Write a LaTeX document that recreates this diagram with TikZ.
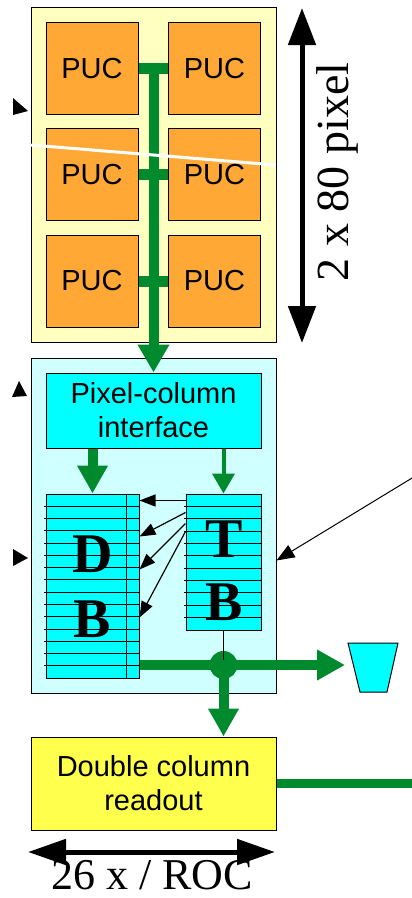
\documentclass[tikz,border=0pt]{standalone}
\usepackage{fontspec}
\setmainfont{Liberation Serif}
\setsansfont{Liberation Sans}
\usetikzlibrary{arrows.meta,calc}
\definecolor{paleyellow}{RGB}{255,255,191}
\definecolor{pucorange}{RGB}{255,168,54}
\definecolor{palecyan}{RGB}{208,255,255}
\definecolor{boxcyan}{RGB}{0,255,255}
\definecolor{royellow}{RGB}{255,255,77}
\definecolor{busgreen}{RGB}{0,138,46}
\begin{document}
\begin{tikzpicture}[x=1pt,y=-1pt,
  blk/.style={draw,line width=1pt,inner sep=0pt},
  txt/.style={font=\sffamily\fontsize{29}{34}\selectfont,align=center},
  puc/.style={blk,txt,fill=pucorange,minimum width=92pt,minimum height=92pt},
  big/.style={font=\bfseries\fontsize{56}{60}\selectfont,inner sep=0pt,anchor=base},
  dimtxt/.style={font=\fontsize{46}{50}\selectfont,inner sep=0pt,anchor=base},
  bus/.style={draw=busgreen,line width=10pt},
  busarrow/.style={bus,-{Triangle[width=29pt,length=28pt]}},
  thinarrow/.style={line width=1.2pt,-{Triangle[width=12pt,length=16pt]}},
  dimarrow/.style={line width=5pt,{Triangle[width=27pt,length=37pt]}-{Triangle[width=27pt,length=37pt]}}]
\useasboundingbox (0,0) rectangle (412,898);
% pixel column
\node[blk,fill=paleyellow,minimum width=245pt,minimum height=335pt] (col) at (153.5,174.5) {};
\foreach \y/\n in {68.5/1,174.5/2,281/3}
{
  \node[puc] (pa\n) at (92,\y) {PUC};
  \node[puc] (pb\n) at (214.5,\y) {PUC};
}
% periphery
\node[blk,fill=palecyan,minimum width=245pt,minimum height=335pt] (cell) at (153.5,525.5) {};
\node[blk,txt,fill=boxcyan,minimum width=215pt,minimum height=75pt] (pci) at (153.5,410.5) {Pixel-column\\interface};
\node[blk,fill=boxcyan,minimum width=93pt,minimum height=184pt] (db) at (92.5,586) {};
\node[blk,fill=boxcyan,minimum width=75pt,minimum height=136pt] (tb) at (223.5,562) {};
\foreach \i in {1,...,14} \draw[line width=0.8pt] (44,{494+12.27*\i}) -- (139,{494+12.27*\i});
\foreach \i in {1,...,10} \draw[line width=0.8pt] (184,{494+12.36*\i}) -- (261,{494+12.36*\i});
\draw[line width=1pt] (126,494) -- (126,678);
\node[big] (dbd) at (92.5,572) {D};
\node[big] (dbb) at (92.5,637) {B};
\node[big] (tbt) at (224,557) {T};
\node[big] (tbb) at (224,620) {B};
\node[blk,txt,fill=royellow,minimum width=245pt,minimum height=93pt] (rd) at (153.5,783.5) {Double column\\readout};
% column bus
\foreach \a/\b in {pa1/pb1,pa2/pb2,pa3/pb3} \draw[bus,line width=11pt] (\a.east) -- (\b.west);
\coordinate (bustop) at (153.5,63);
\draw[busarrow,-{Triangle[width=30pt,length=28pt]}] (bustop) -- (pci.north);
\draw[busarrow] (db.north |- pci.south) -- (db.north);
\draw[bus,line width=4pt,-{Triangle[width=22pt,length=20pt]}] (tb.north |- pci.south) -- (tb.north);
\draw[thinarrow] ($(tb.north west)+(0,7)$) -- ($(db.north east)+(0,7)$);
\draw[thinarrow] ($(tb.north west)+(0,19)$) -- ($(db.north east)+(0,43)$);
\draw[thinarrow] ($(tb.north west)+(0,30)$) -- ($(db.north east)+(0,76)$);
\draw[thinarrow] ($(tb.north west)+(0,38)$) -- ($(db.north east)+(0,124)$);
\node[circle,fill=busgreen,minimum size=28pt,inner sep=0pt] (jn) at (223.5,665) {};
\draw[line width=1.5pt] (tb.south) -- (jn.center);
\coordinate (binin) at (345,665);
\draw[busarrow] (db.east |- jn) -- (binin);
\draw[busarrow] (jn.center) -- (jn |- rd.north);
\draw[line width=1pt,fill=boxcyan] (348,643) -- (398,643) -- (387,692) -- (360,692) -- cycle;
\coordinate (roout) at (414,783.5);
\draw[bus,line width=9pt] (rd.east) -- (roout);
\coordinate (far) at (418,474.4);
\draw[thinarrow,line width=1pt,-{Triangle[width=14pt,length=18pt]}] (far) -- ($(cell.south east)+(0,-133)$);
% dimensions
\coordinate (htop) at (302,8);
\coordinate (hbot) at (302,343);
\draw[dimarrow] (htop) -- (hbot);
\node[dimtxt,rotate=90] (lblh) at (348,172) {2 x 80 pixel};
\coordinate (wl) at (28,852);
\coordinate (wr) at (275,852);
\draw[dimarrow,{Triangle[width=25pt,length=38pt]}-{Triangle[width=25pt,length=38pt]}] (wl) -- (wr);
\node[dimtxt,font=\fontsize{44}{48}\selectfont] (lblw) at (152,889) {26 x / ROC};
% left markers and stray line
\fill (13,98) -- (28,111) -- (13,115) -- cycle;
\fill (12,397) -- (19,381) -- (27,396) -- cycle;
\fill (13,549) -- (28,558) -- (13,566) -- cycle;
\draw[white,line width=3pt] (31,145) -- (276,165);
\end{tikzpicture}
\end{document}
